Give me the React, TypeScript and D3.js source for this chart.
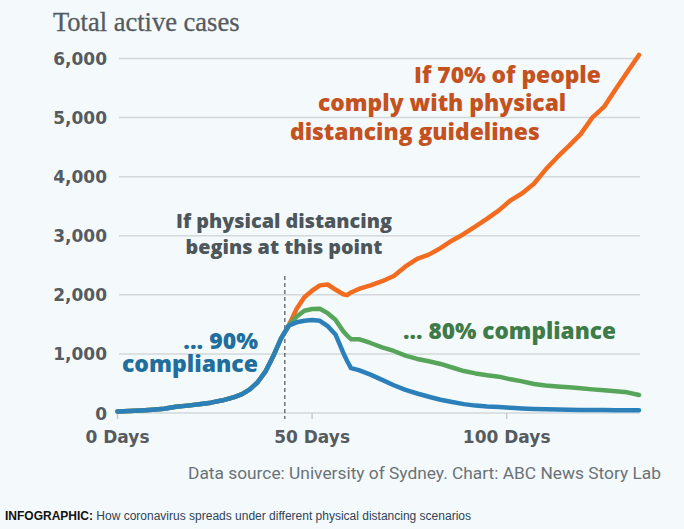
import React from 'react';
import * as d3 from 'd3';

const days = [0, 3, 6, 9, 12, 15, 18, 21, 24, 27, 30, 32, 34, 36, 38, 40, 42, 44, 46, 48, 50, 52, 54, 56, 58, 59, 60, 62, 65, 68, 71, 74, 77, 80, 83, 86, 89, 92, 95, 98, 101, 104, 107, 110, 113, 116, 119, 122, 125, 128, 131, 134];

const early = [25, 32, 42, 55, 72, 105, 125, 148, 175, 215, 270, 320, 400, 520, 700, 960, 1260, 1480];

const comply90 = [...early, 1535, 1560, 1575, 1560, 1470, 1330, 1020, 880, 760, 725, 650, 560, 470, 390, 330, 275, 225, 185, 150, 125, 110, 100, 88, 78, 68, 62, 58, 55, 52, 50, 49, 48, 47, 46];
const comply80 = [...early, 1630, 1730, 1760, 1765, 1690, 1580, 1385, 1310, 1250, 1250, 1185, 1110, 1050, 970, 915, 875, 830, 770, 710, 670, 640, 615, 570, 535, 490, 465, 448, 435, 418, 400, 385, 368, 350, 305];
const comply70 = [...early, 1760, 1960, 2070, 2160, 2175, 2090, 2010, 1995, 2040, 2100, 2160, 2230, 2320, 2480, 2610, 2680, 2790, 2920, 3030, 3160, 3290, 3430, 3600, 3720, 3880, 4120, 4330, 4520, 4720, 5000, 5180, 5480, 5770, 6060];

const yTicks = [0, 1000, 2000, 3000, 4000, 5000, 6000];
const xTicks = [0, 50, 100];
const startDay = 43;

const title = 'Total active cases';
const source = 'Data source: University of Sydney. Chart: ABC News Story Lab';
const captionBold = 'INFOGRAPHIC:';
const captionText = ' How coronavirus spreads under different physical distancing scenarios';

export default function App() {
  const W = 684;
  const H = 529;
  const x = d3.scaleLinear().domain([0, 134]).range([117.5, 639]);
  const y = d3.scaleLinear().domain([0, 6000]).range([413, 58.5]);
  const mk = (vals: number[]) =>
    d3.line<number>().x((_, i) => x(days[i])).y((v) => y(v)).curve(d3.curveLinear)(vals) || '';

  const sans = "'Open Sans', sans-serif";
  const axisFont = "'DejaVu Sans', sans-serif";
  const grey = '#555b5f';

  return (
    <div style={{ position: 'absolute', left: 0, top: 0 }}>
      <svg width={W} height={H} style={{ display: 'block', background: '#f4f9fc' }}>
        <text x={53} y={31} fontFamily="'Liberation Serif', serif" fontSize={26.5} fill={grey} stroke={grey} strokeWidth={0.3}>{title}</text>
        {yTicks.map((t) => (
          <g key={t}>
            <line x1={119} x2={640} y1={y(t)} y2={y(t)} stroke="#d3d8db" strokeWidth={1.5} />
            <text x={107} y={y(t) + 6.5} textAnchor="end" fontFamily={axisFont} fontWeight="bold" fontSize={17} fill={grey}>
              {d3.format(',')(t)}
            </text>
          </g>
        ))}
        {xTicks.map((t) => (
          <g key={t}>
            <line x1={x(t)} x2={x(t)} y1={y(0)} y2={y(0) + 6} stroke="#c6cbce" strokeWidth={1.5} />
            <text x={x(t)} y={443} textAnchor="middle" fontFamily={axisFont} fontWeight="bold" fontSize={17} fill={grey}>
              {t} Days
            </text>
          </g>
        ))}
        <line x1={x(startDay)} x2={x(startDay)} y1={276} y2={419} stroke="#333" strokeWidth={1} strokeDasharray="4,3" />
        <path d={mk(comply70)} fill="none" stroke="#f26b1f" strokeWidth={4.5} strokeLinejoin="round" strokeLinecap="round" />
        <path d={mk(comply80)} fill="none" stroke="#57a55a" strokeWidth={4.5} strokeLinejoin="round" strokeLinecap="round" />
        <path d={mk(comply90)} fill="none" stroke="#2b80b9" strokeWidth={4.5} strokeLinejoin="round" strokeLinecap="round" />

        <g fontFamily={sans} fontWeight={800} fontSize={19.8} fill="#4d565b" textAnchor="middle">
          <text x={284} y={228}>If physical distancing</text>
          <text x={284} y={254}>begins at this point</text>
        </g>
        <g fontFamily={sans} fontWeight={800} fontSize={22.8} fill="#c4521f">
          <text x={414} y={83}>If 70% of people</text>
          <text x={318} y={111}>comply with physical</text>
          <text x={290} y={140}>distancing guidelines</text>
        </g>
        <text x={403} y={339} fontFamily={sans} fontWeight={800} fontSize={22.6} fill="#3f7b48">... 80% compliance</text>
        <g fontFamily={sans} fontWeight={800} fontSize={23} fill="#1f6e9d" textAnchor="end">
          <text x={258} y={349}>... 90%</text>
          <text x={258} y={372}>compliance</text>
        </g>

        <text x={661} y={479} textAnchor="end" fontFamily="Roboto, sans-serif" fontSize={17} textLength={473} lengthAdjust="spacingAndGlyphs" fill="#6a7277">{source}</text>
        <text x={5} y={520} fontFamily="'Liberation Sans', Arial, sans-serif" fontSize={12} fill="#2f4457">
          <tspan fontWeight="bold" fill="#111">{captionBold}</tspan>
          <tspan>{captionText}</tspan>
        </text>
      </svg>
    </div>
  );
}
